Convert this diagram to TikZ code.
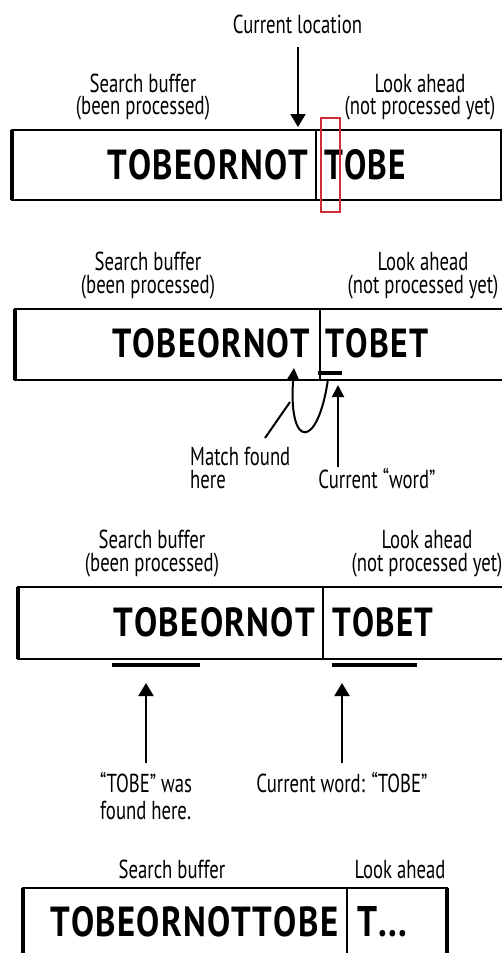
\documentclass[tikz,border=0pt]{standalone}
\usepackage{fontspec}
\usepackage{graphicx}
\usetikzlibrary{arrows.meta}
\setmainfont[FakeStretch=0.72]{PT Sans}
\newfontfamily\bigfont[FakeStretch=0.8]{PT Sans}
\definecolor{redbox}{RGB}{205,45,55}
\def\spacedi#1#2{#1\ifx\relax#2\else\kern0.03em\expandafter\spacedi\fi#2}
\newcommand{\bigword}[3]{\resizebox{#1pt}{#2pt}{\bigfont\bfseries\spacedi#3\relax}}
\newcommand{\twoc}[3]{\vtop{\baselineskip=#1pt\lineskiplimit=-100pt\halign{\hfil##\hfil\cr #2\cr #3\cr}}}
\newcommand{\twol}[3]{\vtop{\baselineskip=#1pt\lineskiplimit=-100pt\halign{##\hfil\cr #2\cr #3\cr}}}
\begin{document}
\begin{tikzpicture}[x=1pt,y=-1pt,
  lbl/.style={font=\fontsize{26}{26}\selectfont, inner sep=0pt, anchor=base},
  lbll/.style={lbl, anchor=base west},
  big/.style={inner sep=0pt, anchor=south west},
  frame/.style={line width=2pt},
  sidel/.style={line width=3.5pt},
  div/.style={line width=1.5pt},
  bar/.style={line width=3.5pt},
  arr/.style={line width=2pt, -{Triangle[width=15pt,length=13pt]}},
  arrs/.style={line width=2pt, -{Triangle[width=12pt,length=12pt]}},
  redframe/.style={draw=redbox, line width=1.6pt}]
\useasboundingbox[fill=white] (0,0) rectangle (502,953);

% ---------- panel 1
\node[lbl] (cur) at (297.5,33) {Current location};
\coordinate (curA) at (298,47);
\coordinate (curB) at (298,127);
\draw[arr] (curA) -- (curB);
\node[lbl] (sb1) at (143,92) {\twoc{22}{Search buffer}{(been processed)}};
\node[lbl] (la1) at (420,92) {\twoc{22}{Look ahead}{(not processed yet)}};
\draw[frame] (12,130) rectangle (501,200);
\draw[sidel] (12,130) -- (12,200);
\draw[div] (316,130) -- (316,200);
\node[big] (w1a) at (107,180) {\bigword{201}{30}{TOBEORNOT}};
\node[big] (w1b) at (324,180) {\bigword{82}{30}{TOBE}};
\draw[redframe] (321,118) rectangle (340,212);

% ---------- panel 2
\node[lbl] (sb2) at (148,270) {\twoc{23}{Search buffer}{(been processed)}};
\node[lbl] (la2) at (423,270) {\twoc{23}{Look ahead}{(not processed yet)}};
\draw[frame] (15,309) rectangle (506,380);
\draw[sidel] (15,309) -- (15,380);
\draw[div] (320,309) -- (320,380);
\node[big] (w2a) at (112,358) {\bigword{198}{29}{TOBEORNOT}};
\node[big] (w2b) at (325,358) {\bigword{103}{29}{TOBET}};
\coordinate (bar2a) at (318,373);
\coordinate (bar2b) at (342,373);
\draw[bar] (bar2a) -- (bar2b);
\coordinate (m1) at (328,379);
\coordinate (m2) at (294,368);
\draw[arrs] (m1) .. controls (318,450) and (288,450) .. (m2);
\coordinate (m3) at (265,438);
\coordinate (m4) at (290,402);
\draw[line width=2pt] (m3) -- (m4);
\coordinate (c2a) at (338,467);
\coordinate (c2b) at (338,385);
\draw[arrs] (c2a) -- (c2b);
\node[lbll] (mf) at (190,465) {\twol{23}{Match found}{here}};
\node[lbl] (cw2) at (377,488) {Current “word”};

% ---------- panel 3
\node[lbl] (sb3) at (152,548) {\twoc{23}{Search buffer}{(been processed)}};
\node[lbl] (la3) at (427,548) {\twoc{23}{Look ahead}{(not processed yet)}};
\draw[frame] (18,587) rectangle (506,659);
\draw[sidel] (18,587) -- (18,659);
\draw[div] (323,587) -- (323,659);
\node[big] (w3a) at (113,637) {\bigword{202}{29}{TOBEORNOT}};
\node[big] (w3b) at (332,637) {\bigword{101}{29}{TOBET}};
\coordinate (b3a) at (112,665);
\coordinate (b3b) at (200,665);
\coordinate (b3c) at (332,665);
\coordinate (b3d) at (417,665);
\draw[bar] (b3a) -- (b3b);
\draw[bar] (b3c) -- (b3d);
\coordinate (a3a) at (146,763);
\coordinate (a3b) at (146,683);
\coordinate (a3c) at (342,763);
\coordinate (a3d) at (342,683);
\draw[arr] (a3a) -- (a3b);
\draw[arr] (a3c) -- (a3d);
\node[lbll] (tf) at (100,792) {\twol{27}{“TOBE” was}{found here.}};
\node[lbl] (cw3) at (342,792) {Current word: “TOBE”};

% ---------- panel 4
\node[lbl] (sb4) at (172,878) {Search buffer};
\node[lbl] (la4) at (400,878) {Look ahead};
\draw[frame] (23,888) rectangle (447,960);
\draw[sidel] (23,888) -- (23,960);
\draw[sidel] (447,888) -- (447,960);
\draw[div] (347,888) -- (347,960);
\node[big] (w4a) at (50,937) {\bigword{288}{30}{TOBEORNOTTOBE}};
\node[big] (w4b) at (357,937) {\bigword{50}{30}{T...}};
\end{tikzpicture}
\end{document}
